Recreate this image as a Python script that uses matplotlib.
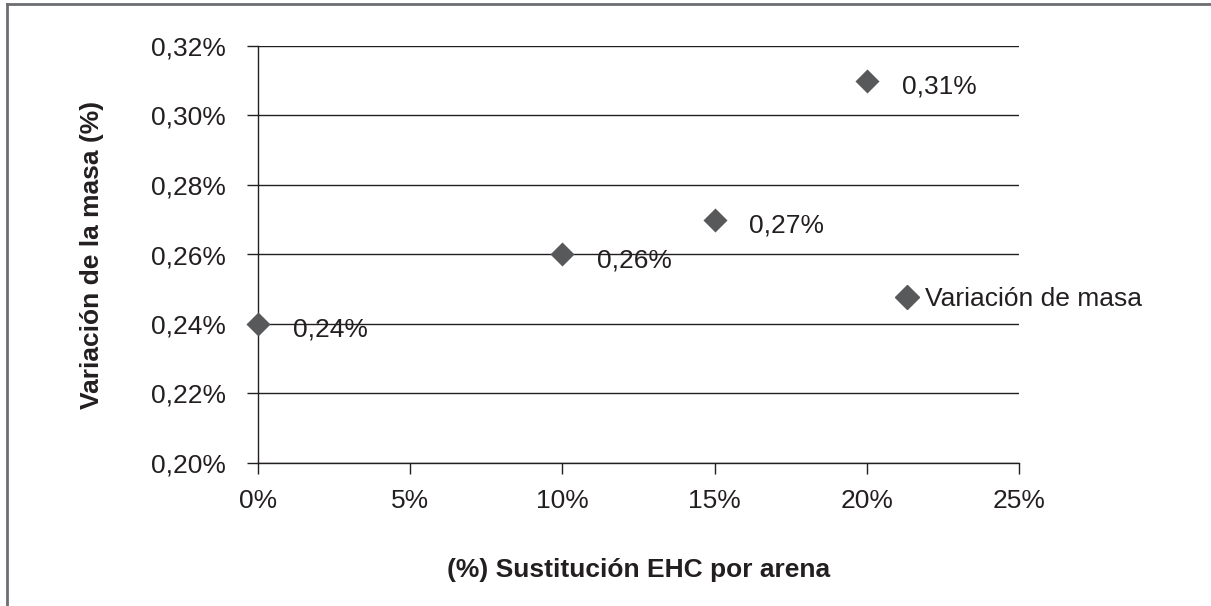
import matplotlib
matplotlib.use("Agg")
import matplotlib.pyplot as plt
from matplotlib.lines import Line2D
from matplotlib.ticker import FuncFormatter, MultipleLocator

plt.rcParams["font.family"] = ["Liberation Sans", "DejaVu Sans"]

# datos
sustitucion = [0, 10, 15, 20]            # % sustitución EHC por arena
variacion   = [0.24, 0.26, 0.27, 0.31]   # % variación de la masa
etiquetas   = ["0,24%", "0,26%", "0,27%", "0,31%"]
serie       = "Variación de masa"

W, H = 1211, 606
FS = 19
fig = plt.figure(figsize=(W / 100, H / 100), dpi=100)
ax = fig.add_axes([258 / W, 1 - 463 / H, (1019 - 258) / W, (463 - 46) / H])

MARK = "#58595b"
ax.scatter(sustitucion, variacion, marker="D", s=150, color=MARK,
           zorder=3, clip_on=False, linewidths=0)
for x, y, t in zip(sustitucion, variacion, etiquetas):
    ax.annotate(t, (x, y), xytext=(25, -4), textcoords="offset points",
                fontsize=FS, color="#231f20", va="center", ha="left", zorder=4)

ax.set_xlim(0, 25)
ax.set_ylim(0.20, 0.32)
ax.xaxis.set_major_locator(MultipleLocator(5))
ax.yaxis.set_major_locator(MultipleLocator(0.02))
ax.xaxis.set_major_formatter(FuncFormatter(lambda v, p: f"{v:.0f}%"))
ax.yaxis.set_major_formatter(FuncFormatter(lambda v, p: f"{v:.2f}%".replace(".", ",")))

ax.grid(axis="y", color="#231f20", linewidth=1.0)
ax.set_axisbelow(True)
for s in ["top", "right"]:
    ax.spines[s].set_visible(False)
for s in ["left", "bottom"]:
    ax.spines[s].set_color("#231f20")
    ax.spines[s].set_linewidth(1.0)
ax.tick_params(axis="both", length=8, width=1.0, color="#231f20",
               labelsize=FS, labelcolor="#231f20")
ax.tick_params(axis="y", pad=15)
ax.tick_params(axis="x", pad=11)

ax.set_xlabel("(%) Sustitución EHC por arena", fontsize=FS, fontweight="bold",
              color="#231f20", labelpad=32)
ax.set_ylabel("Variación de la masa (%)", fontsize=FS, fontweight="bold",
              color="#231f20", labelpad=34)

# leyenda
h = Line2D([], [], marker="D", linestyle="none", color=MARK, markersize=12)
ax.legend([h], [serie], loc="center left", bbox_to_anchor=(0.835, 0.393),
          frameon=False, fontsize=FS, handletextpad=0.2, borderaxespad=0,
          borderpad=0, handlelength=1.0, labelcolor="#231f20")

# marco exterior
fig.add_artist(Line2D([6.5 / W, 6.5 / W], [0, 1 - 3.5 / H], transform=fig.transFigure,
                      color="#6d6e71", linewidth=2.0))
fig.add_artist(Line2D([6.5 / W, 1], [1 - 3.5 / H, 1 - 3.5 / H], transform=fig.transFigure,
                      color="#6d6e71", linewidth=2.0))

fig.savefig("out.png", dpi=100, facecolor="white")
